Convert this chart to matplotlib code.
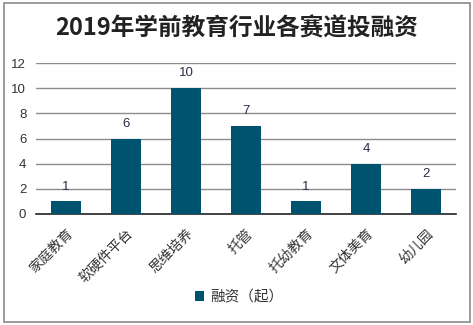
import matplotlib
matplotlib.use("Agg")
import matplotlib.pyplot as plt
from matplotlib.patches import Rectangle

plt.rcParams['font.family'] = ['Noto Sans CJK SC', 'DejaVu Sans']

# Financing events per segment
categories = ["家庭教育", "软硬件平台", "思维培养", "托管", "托幼教育", "文体美育", "幼儿园"]
deals = [1, 6, 10, 7, 1, 4, 2]
series_name = "融资（起）"
title = "2019年学前教育行业各赛道投融资"

bar_color = "#00536E"
grid_color = "#8C8C8C"

fig = plt.figure(figsize=(4.73, 3.25), dpi=100)
fig.patches.append(Rectangle((4 / 473, 3 / 325), 466 / 473, 319 / 325,
                             transform=fig.transFigure, fill=False,
                             edgecolor="#8A8A8A", linewidth=1.2))

ax = fig.add_axes([36 / 473, 1 - 214 / 325, 420 / 473, 151 / 325])
x = range(len(categories))
bars = ax.bar(x, deals, width=0.5, color=bar_color, label=series_name, zorder=3)

for xi, v in zip(x, deals):
    ax.text(xi, v + 0.7, str(v), ha="center", va="bottom",
            fontsize=9.5, color="#2B2B4A", family="Liberation Sans")

ax.set_xlim(-0.5, len(categories) - 0.5)
ax.set_ylim(0, 12)
ax.set_yticks(range(0, 13, 2))
ax.yaxis.grid(True, color=grid_color, linewidth=1, zorder=0)
ax.set_axisbelow(True)
for s in ["left", "right", "top"]:
    ax.spines[s].set_visible(False)
ax.spines["bottom"].set_color("#222222")
ax.spines["bottom"].set_linewidth(1.2)
ax.tick_params(axis="both", length=0, colors="#333333")
ax.tick_params(axis="y", pad=7, labelsize=9.5)
for lbl in ax.get_yticklabels():
    lbl.set_family("Liberation Sans")
ax.set_xticks(list(x))
ax.set_xticklabels(categories, rotation=45, ha="right", rotation_mode="anchor",
                   fontsize=10, color="#333333")
ax.tick_params(axis="x", pad=9)

fig.text(0.5, 1 - 28 / 325, title, ha="center", va="center",
         fontsize=17, fontweight="bold", color="#222222")

fig.legend(loc="center", bbox_to_anchor=(0.506, 1 - 297 / 325), frameon=False,
           fontsize=10.5, handlelength=0.6, handleheight=0.6, handletextpad=0.4,
           labelcolor="#333333")

fig.savefig("out.png", dpi=100)
